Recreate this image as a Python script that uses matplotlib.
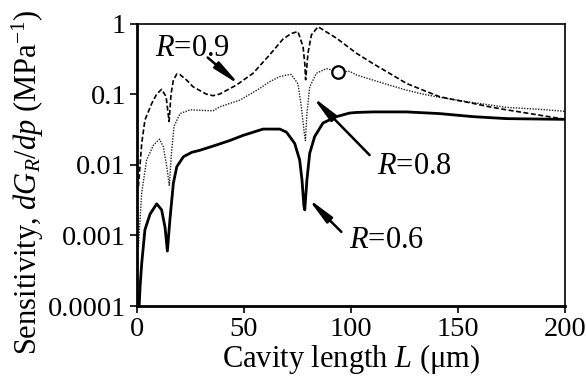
import matplotlib
matplotlib.use("Agg")
import matplotlib.pyplot as plt
from matplotlib.ticker import FixedLocator, FixedFormatter

plt.rcParams['font.family'] = ['Liberation Serif', 'DejaVu Serif']
plt.rcParams['mathtext.fontset'] = 'custom'
plt.rcParams['mathtext.rm'] = 'Liberation Serif'
plt.rcParams['mathtext.it'] = 'Liberation Serif:italic'
plt.rcParams['mathtext.bf'] = 'Liberation Serif:bold'

# R = 0.6 (solid)
L06 = [1, 1.5, 2.2, 3.7, 6.1, 9.2, 11.5, 13.1, 14.2, 15.4, 17, 18.6, 21.7, 25.6, 29.3,
       37, 43.3, 49.5, 58.9, 63.4, 66.7, 69.8, 71.4, 73.7, 76.0, 77.1, 78.0, 78.4,
       79.4, 80.7, 83.0, 86.9, 93.2, 99.4, 102.5, 110.3, 125.9, 141.4, 157, 172.6, 197.5, 200]
S06 = [0.0001, 0.0002, 0.0004, 0.0012, 0.0020, 0.0028, 0.0023, 0.0013, 0.0006, 0.0017,
       0.0055, 0.0094, 0.013, 0.015, 0.016, 0.019, 0.022, 0.026, 0.032, 0.032, 0.032,
       0.029, 0.025, 0.020, 0.0117, 0.0061, 0.0026, 0.0023, 0.0061, 0.0145, 0.025, 0.039,
       0.048, 0.054, 0.055, 0.056, 0.056, 0.053, 0.048, 0.045, 0.044, 0.044]

# R = 0.8 (dotted)
L08 = [0.65, 2.2, 4.5, 7.7, 10.5, 12.3, 13.9, 15.1, 16.1, 17.3, 20.1, 24.8, 29.3, 35.5,
       38.6, 48, 57.3, 62, 66.7, 71.4, 72.1, 75.2, 76.8, 78.0, 78.7, 79.4, 80.7, 83.8,
       88.5, 94, 99.4, 102.5, 110.3, 118, 125.9, 133.6, 141.4, 157, 172.6, 188, 200]
S08 = [0.00069, 0.004, 0.0117, 0.019, 0.023, 0.018, 0.0094, 0.0051, 0.0145, 0.035,
       0.053, 0.060, 0.059, 0.058, 0.066, 0.082, 0.12, 0.15, 0.177, 0.19, 0.19, 0.14,
       0.066, 0.031, 0.022, 0.053, 0.127, 0.197, 0.23, 0.208, 0.21, 0.187, 0.158, 0.134,
       0.114, 0.100, 0.090, 0.076, 0.065, 0.061, 0.057]

# R = 0.9 (dashed)
L09 = [0.65, 2.2, 3.7, 6.9, 9.2, 11.5, 13.6, 15, 15.9, 17, 18.6, 20, 23.2, 26.2, 32.4,
       35.5, 38.6, 46.4, 54.2, 62, 68.2, 72, 75.2, 77.6, 78.4, 78.8, 79.9, 81.5, 84.6,
       93.2, 102.5, 110.3, 118, 125.9, 133.6, 141.4, 149.3, 157, 164.8, 172.6, 182, 200]
S09 = [0.0049, 0.02, 0.043, 0.074, 0.10, 0.117, 0.092, 0.041, 0.10, 0.158, 0.193, 0.19,
       0.158, 0.127, 0.10, 0.095, 0.10, 0.134, 0.197, 0.36, 0.6, 0.72, 0.77, 0.47, 0.27,
       0.16, 0.38, 0.69, 0.90, 0.62, 0.38, 0.27, 0.197, 0.142, 0.114, 0.092, 0.082,
       0.074, 0.066, 0.060, 0.054, 0.044]

marker_L = [94]
marker_S = [0.208]

y_ticks = [0.0001, 0.001, 0.01, 0.1, 1]
y_tick_labels = ['0.0001', '0.001', '0.01', '0.1', '1']
x_ticks = [0, 50, 100, 150, 200]

# annotations: label, text position, arrow start, arrow tip
ann_labels = [r'$R$=0.9', r'$R$=0.8', r'$R$=0.6']
ann_text_pos = [(8.5, 0.44), (112, 0.0095), (99, 0.00086)]
ann_start = [(33.0, 0.33), (108.7, 0.0137), (95.5, 0.00112)]
ann_tip = [(48, 0.135), (82, 0.092), (79.9, 0.00334)]

fig = plt.figure(figsize=(5.86, 3.81), dpi=100)
ax = fig.add_axes([137/586, 1 - 306/381, (565-137)/586, (306-23.5)/381])

ax.plot(L06, S06, color='black', lw=2.0, solid_joinstyle='round')
ax.plot(L08, S08, color='#222222', lw=1.0, linestyle=(0, (1, 1)))
ax.plot(L09, S09, color='black', lw=1.2, linestyle=(0, (3, 1.5)))
ax.plot(marker_L, marker_S, 'o', ms=9, mfc='white', mec='black', mew=1.6)

ax.set_yscale('log')
ax.set_xlim(0, 200)
ax.set_ylim(0.0001, 1)
ax.yaxis.set_major_locator(FixedLocator(y_ticks))
ax.yaxis.set_major_formatter(FixedFormatter(y_tick_labels))
ax.yaxis.set_minor_locator(FixedLocator([]))
ax.set_xticks(x_ticks)
ax.tick_params(axis='both', direction='out', length=5, width=1.2, labelsize=20.5, pad=3)
for s in ax.spines.values():
    s.set_linewidth(1.2)
for s in ['bottom', 'left']:
    ax.spines[s].set_linewidth(2.0)

ax.set_xlabel(r'Cavity length $L$ ($\mathrm{\mu}$m)', fontsize=22, labelpad=0)
ax.set_ylabel(r'Sensitivity, $dG_R/dp$ (MPa$^{-1}$)', fontsize=22)
ax.yaxis.set_label_coords(-0.213, 0.44)

ap = dict(arrowstyle='-|>,head_length=1.6,head_width=0.24', color='black', lw=1.8,
          shrinkA=0, shrinkB=0, mutation_scale=10)
for lab, tp, st, tip in zip(ann_labels, ann_text_pos, ann_start, ann_tip):
    ax.text(tp[0], tp[1], lab, fontsize=22, ha='left', va='center')
    ax.annotate('', xy=tip, xytext=st, arrowprops=ap)

fig.savefig('out.png', dpi=100)
